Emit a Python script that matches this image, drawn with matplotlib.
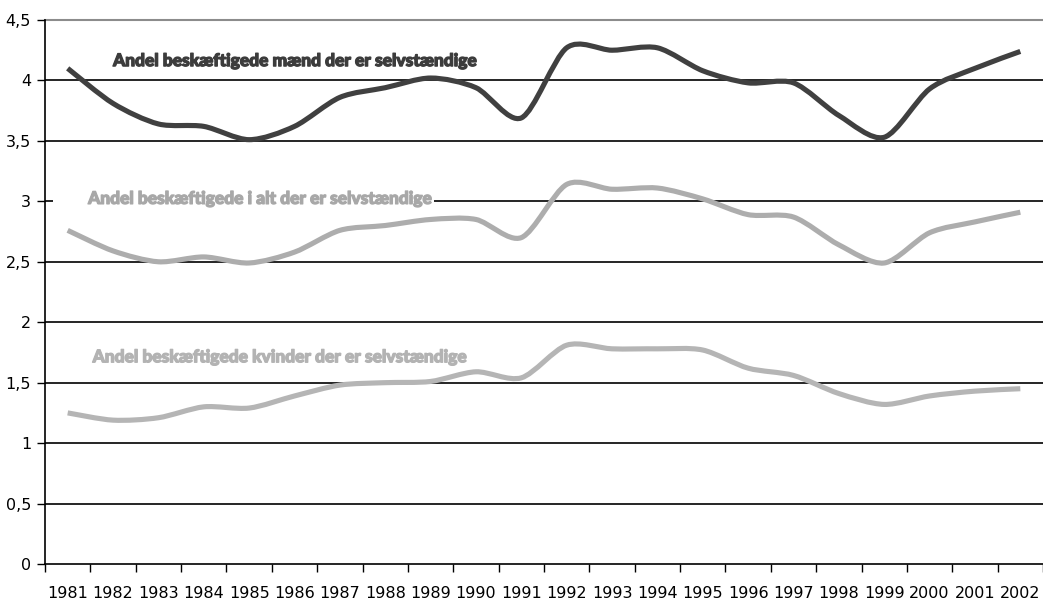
import matplotlib
matplotlib.use('Agg')
import matplotlib.pyplot as plt
import matplotlib.patheffects as pe
from matplotlib.path import Path
from matplotlib.patches import PathPatch, Rectangle
import numpy as np

# Data
years = [str(y) for y in range(1981, 2003)]
maend = [4.10, 3.81, 3.64, 3.62, 3.51, 3.62, 3.86, 3.94, 4.02, 3.94, 3.69,
         4.27, 4.25, 4.27, 4.08, 3.98, 3.98, 3.71, 3.53, 3.93, 4.10, 4.24]
i_alt = [2.76, 2.59, 2.50, 2.54, 2.49, 2.58, 2.76, 2.80, 2.85, 2.85, 2.70,
         3.14, 3.10, 3.11, 3.02, 2.89, 2.87, 2.64, 2.49, 2.74, 2.83, 2.91]
kvinder = [1.25, 1.19, 1.21, 1.30, 1.29, 1.39, 1.48, 1.50, 1.51, 1.59, 1.54,
           1.81, 1.78, 1.78, 1.77, 1.62, 1.56, 1.41, 1.32, 1.39, 1.43, 1.45]
yticks = [0, 0.5, 1, 1.5, 2, 2.5, 3, 3.5, 4, 4.5]
ytick_labels = ['0', '0,5', '1', '1,5', '2', '2,5', '3', '3,5', '4', '4,5']


def smooth_path(xs, ys, k=7.0):
    # smoothed line like the spreadsheet "smoothed line" option (bezier through points)
    pts = np.column_stack([xs, ys]).astype(float)
    n = len(pts)
    verts = [pts[0]]
    codes = [Path.MOVETO]
    for i in range(n - 1):
        p0 = pts[i - 1] if i > 0 else pts[i]
        p1 = pts[i]
        p2 = pts[i + 1]
        p3 = pts[i + 2] if i + 2 < n else pts[i + 1]
        c1 = p1 + (p2 - p0) / k
        c2 = p2 - (p3 - p1) / k
        verts += [c1, c2, p2]
        codes += [Path.CURVE4] * 3
    return Path(verts, codes)


fig = plt.figure(figsize=(10.43, 6.01), dpi=100)
ax = fig.add_axes([45 / 1043, 1 - 564 / 601, 998 / 1043, 544 / 601])

x = np.arange(len(years))
ax.set_xlim(-0.5, len(years) - 0.5)
ax.set_ylim(0, 4.5)

# gridlines
for yv in yticks[1:-1]:
    ax.axhline(yv, color='black', lw=1.2, zorder=1)
ax.axhline(4.5, color='#8c8c8c', lw=1.5, zorder=1, clip_on=False)

for vals, col in [(kvinder, '#b5b5b5'), (i_alt, '#adadad'), (maend, '#404040')]:
    ax.add_patch(PathPatch(smooth_path(x, vals), fill=False, edgecolor=col,
                           lw=3.7, capstyle='butt', joinstyle='round', zorder=3))

# line labels
lab = dict(fontfamily='Lato', fontweight='black', fontsize=12.5, ha='left', va='center', zorder=5)
t1 = ax.text(1.0, 4.16, 'Andel beskæftigede mænd der er selvstændige', color='#3c3c3c', **lab)
t1.set_path_effects([pe.withStroke(linewidth=0.9, foreground='#3c3c3c')])
ax.add_patch(Rectangle((-0.32, 2.96), 8.4, 0.08, facecolor='white', edgecolor='none', zorder=4))
t2 = ax.text(0.45, 3.02, 'Andel beskæftigede i alt der er selvstændige', color='#a8a8a8', **lab)
t2.set_path_effects([pe.withStroke(linewidth=0.9, foreground='#a8a8a8')])
t3 = ax.text(0.55, 1.71, 'Andel beskæftigede kvinder der er selvstændige', color='#b3b3b3', **lab)
t3.set_path_effects([pe.withStroke(linewidth=0.9, foreground='#b3b3b3')])

ax.set_yticks(yticks)
ax.set_yticklabels(ytick_labels)
ax.set_xticks(x)
ax.set_xticklabels(years)
ax.set_xticks(np.arange(-0.5, len(years), 1.0), minor=True)
ax.tick_params(axis='x', which='major', length=0, pad=16, labelsize=11.5)
ax.tick_params(axis='x', which='minor', length=6, width=1, direction='out')
ax.tick_params(axis='y', length=6, width=1, labelsize=11.5, pad=4)

for s in ['top', 'right']:
    ax.spines[s].set_visible(False)
ax.spines['left'].set_linewidth(1.2)
ax.spines['bottom'].set_linewidth(1.2)

fig.savefig('out.png', dpi=100)
